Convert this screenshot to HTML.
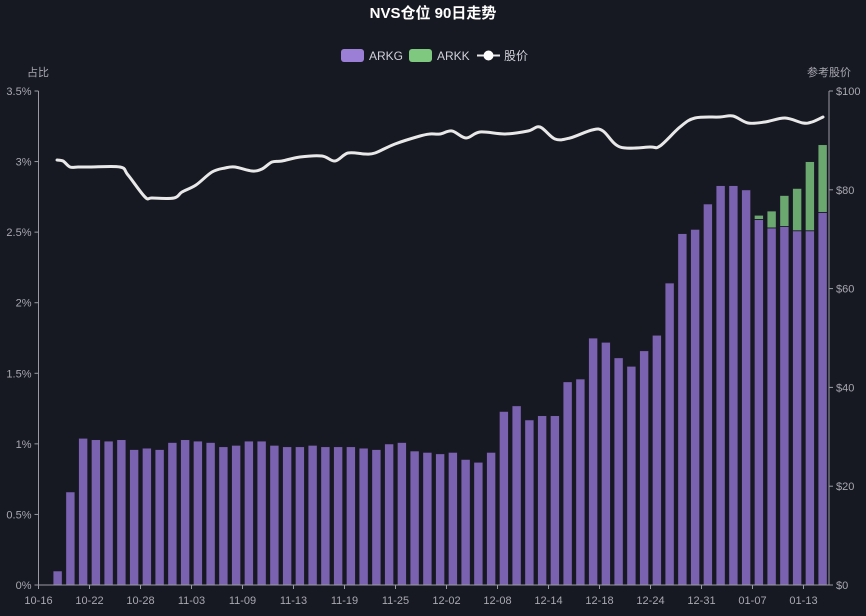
<!DOCTYPE html>
<html><head><meta charset="utf-8"><style>
html,body{margin:0;padding:0;background:#161822;}
svg{display:block;font-family:"Liberation Sans","Noto Sans CJK SC",sans-serif;}
</style></head><body>
<svg id="c" width="866" height="616" xmlns="http://www.w3.org/2000/svg">
<rect width="866" height="616" fill="#161822"/>
<text x="433" y="18" fill="#ffffff" font-size="15" font-weight="bold" text-anchor="middle">NVS仓位 90日走势</text>
<rect x="341" y="49" width="23" height="13" rx="3" fill="#9b7fd6"/>
<text x="369" y="60" fill="#d0d0d8" font-size="12">ARKG</text>
<rect x="409" y="49" width="23" height="13" rx="3" fill="#7ec87f"/>
<text x="437" y="60" fill="#d0d0d8" font-size="12">ARKK</text>
<line x1="477" y1="55.5" x2="500" y2="55.5" stroke="#e8e8e8" stroke-width="2"/>
<circle cx="488.5" cy="55.5" r="5" fill="#ffffff"/>
<text x="504" y="60" fill="#d0d0d8" font-size="12">股价</text>
<text x="38" y="76" fill="#a8a8b0" font-size="11" text-anchor="middle">占比</text>
<text x="829" y="76" fill="#a8a8b0" font-size="11" text-anchor="middle">参考股价</text>
<g id="g"></g>
</svg>
<script>
var g=document.getElementById('g'),s='';
var L=38.5,R=829,T=91,B=585,n=62,bw=(R-L)/n;
var arkg=[0,0.1,0.66,1.04,1.03,1.02,1.03,0.96,0.97,0.96,1.01,1.03,1.02,1.01,0.98,0.99,1.02,1.02,0.99,0.98,0.98,0.99,0.98,0.98,0.98,0.97,0.96,1.0,1.01,0.95,0.94,0.93,0.94,0.89,0.87,0.94,1.23,1.27,1.17,1.2,1.2,1.44,1.46,1.75,1.72,1.61,1.55,1.66,1.77,2.14,2.49,2.52,2.7,2.83,2.83,2.8,2.59,2.53,2.54,2.51,2.51,2.64];
var tot={56:2.62,57:2.65,58:2.76,59:2.81,60:3.0,61:3.12};
function py(v){return B-(B-T)*v/3.5;}
for(var i=0;i<n;i++){var cx=L+bw*(i+0.5),w=9.2,x=cx-w/2;
 if(arkg[i]>0){var y=py(arkg[i]);s+='<rect x="'+x+'" y="'+y+'" width="'+w+'" height="'+(B-y)+'" fill="#7b62b0" stroke="#1a1a26" stroke-width="0.8"/>';}
 if(tot[i]){var y2=py(tot[i]),y1=py(arkg[i]);s+='<rect x="'+x+'" y="'+y2+'" width="'+w+'" height="'+(y1-y2)+'" fill="#6aa870" stroke="#1a1a26" stroke-width="0.8"/>';}
}
s+='<line x1="'+L+'" y1="'+T+'" x2="'+L+'" y2="'+B+'" stroke="#9a9aa4" stroke-width="1"/>';
s+='<line x1="'+R+'" y1="'+T+'" x2="'+R+'" y2="'+B+'" stroke="#9a9aa4" stroke-width="1"/>';
s+='<line x1="'+L+'" y1="'+B+'" x2="'+R+'" y2="'+B+'" stroke="#9a9aa4" stroke-width="1"/>';
var lt=['0%','0.5%','1%','1.5%','2%','2.5%','3%','3.5%'];
for(var k=0;k<8;k++){var y=py(k*0.5);
 s+='<line x1="'+(L-4)+'" y1="'+y+'" x2="'+L+'" y2="'+y+'" stroke="#9a9aa4"/>';
 s+='<text x="'+(L-7)+'" y="'+(y+4)+'" fill="#a8a8b0" font-size="11" text-anchor="end">'+lt[k]+'</text>';}
for(var k=0;k<6;k++){var y=B-(B-T)*k/5;
 s+='<line x1="'+R+'" y1="'+y+'" x2="'+(R+4)+'" y2="'+y+'" stroke="#9a9aa4"/>';
 s+='<text x="'+(R+7)+'" y="'+(y+4)+'" fill="#a8a8b0" font-size="11">$'+(k*20)+'</text>';}
var xl=['10-16','10-22','10-28','11-03','11-09','11-13','11-19','11-25','12-02','12-08','12-14','12-18','12-24','12-31','01-07','01-13'];
for(var k=0;k<xl.length;k++){var x=L+bw*4*k;
 s+='<line x1="'+x+'" y1="'+B+'" x2="'+x+'" y2="'+(B+4)+'" stroke="#9a9aa4"/>';
 s+='<text x="'+x+'" y="'+(B+19)+'" fill="#a8a8b0" font-size="11" text-anchor="middle">'+xl[k]+'</text>';}
var p=[[57,160],[63,161],[70,167],[78,167],[90,167],[120,167],[128,175],[145,197],[152,198],[174,198],[182,192],[196,185],[212,172],[225,168],[235,167],[252,171],[262,169],[272,162],[282,161],[300,157],[322,156],[335,161],[348,153],[365,154],[375,153],[395,144],[420,136],[430,134],[440,134],[452,131],[466,138],[480,132],[505,134],[528,131],[540,127],[555,139],[570,138],[592,130],[603,131],[620,147],[650,147],[660,146],[680,127],[695,118],[720,117],[733,116],[748,123],[765,122],[785,118],[803,123],[812,122],[823,117]];
var d='M'+p[0][0]+' '+p[0][1];
for(var i=0;i<p.length-1;i++){var p0=p[Math.max(0,i-1)],p1=p[i],p2=p[i+1],p3=p[Math.min(p.length-1,i+2)];
 var c1x=p1[0]+(p2[0]-p0[0])/6,c1y=p1[1]+(p2[1]-p0[1])/6,c2x=p2[0]-(p3[0]-p1[0])/6,c2y=p2[1]-(p3[1]-p1[1])/6;
 d+=' C'+c1x+' '+c1y+' '+c2x+' '+c2y+' '+p2[0]+' '+p2[1];}
s+='<path d="'+d+'" fill="none" stroke="#e8e8e8" stroke-width="3" stroke-linejoin="round" stroke-linecap="round"/>';
g.innerHTML=s;
</script>
</body></html>
